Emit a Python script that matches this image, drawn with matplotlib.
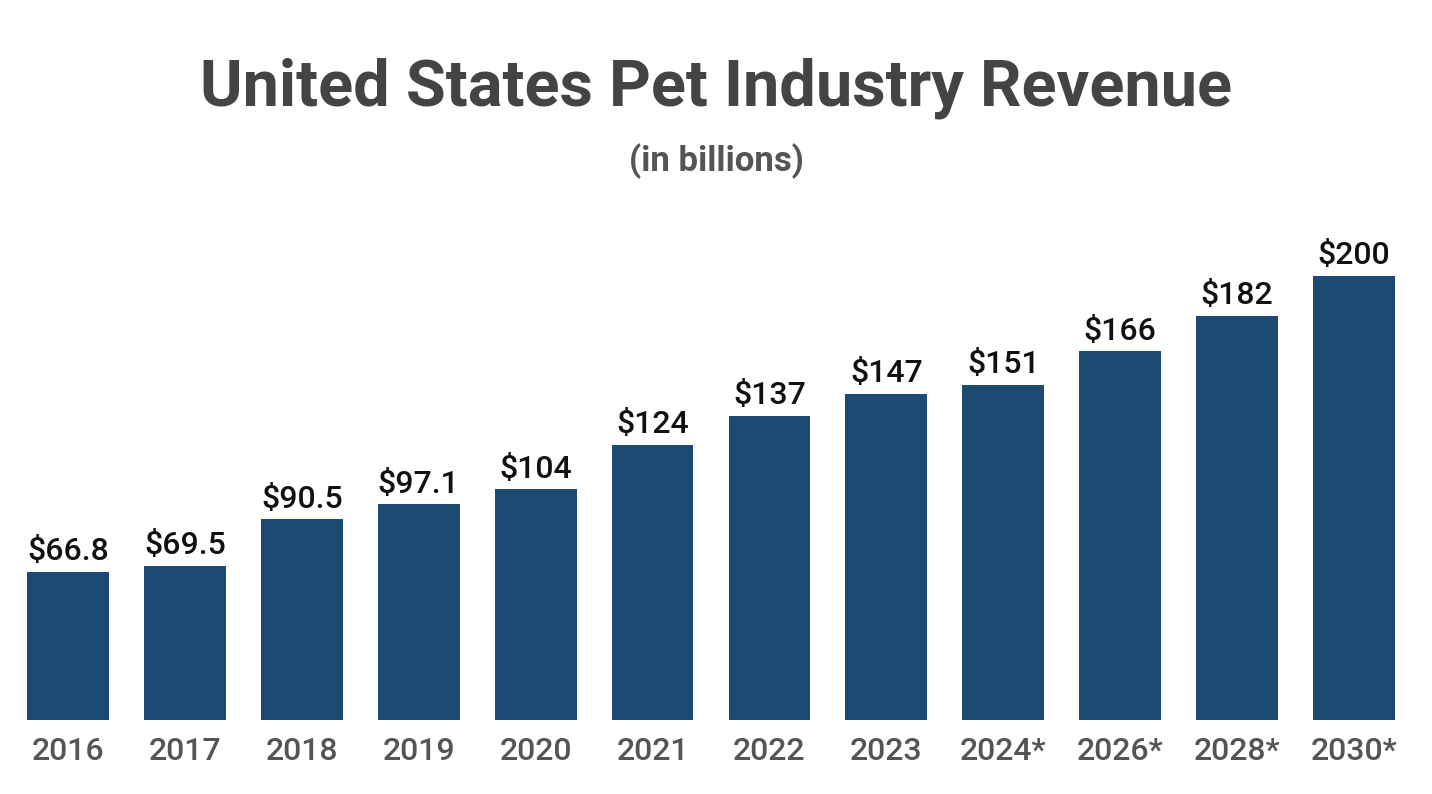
import matplotlib
matplotlib.use("Agg")
import matplotlib.pyplot as plt

# data (billions of USD)
years = ["2016", "2017", "2018", "2019", "2020", "2021", "2022", "2023",
         "2024*", "2026*", "2028*", "2030*"]
revenue = [66.8, 69.5, 90.5, 97.1, 104, 124, 137, 147, 151, 166, 182, 200]
value_labels = ["$66.8", "$69.5", "$90.5", "$97.1", "$104", "$124", "$137",
                "$147", "$151", "$166", "$182", "$200"]

plt.rcParams['font.family'] = ['Roboto', 'DejaVu Sans']

fig = plt.figure(figsize=(14.32, 7.94), dpi=100)
fig.patch.set_facecolor('white')
ax = fig.add_axes([9.5 / 1432, 74 / 794, 1403 / 1432, 520 / 794])

x = range(len(years))
bars = ax.bar(x, revenue, width=0.70, color='#1c4a73')

for b, lab in zip(bars, value_labels):
    ax.text(b.get_x() + b.get_width() / 2, b.get_height() + 2.5, lab,
            ha='center', va='bottom', fontsize=23, fontweight='medium',
            color='#111111')

ax.set_xlim(-0.5, len(years) - 0.5)
ax.set_ylim(0, 234.2)
ax.set_xticks(list(x))
ax.set_xticklabels(years, fontsize=23, fontweight='medium', color='#555555')
ax.tick_params(axis='x', length=0, pad=12)
ax.set_yticks([])
for s in ax.spines.values():
    s.set_visible(False)

fig.text(0.5, 1 - 88 / 794, "United States Pet Industry Revenue",
         ha='center', va='center', fontsize=46.7, fontweight='bold',
         color='#444444')
fig.text(0.5, 1 - 161 / 794, "(in billions)", ha='center', va='center',
         fontsize=25, fontweight='bold', color='#555555')

fig.savefig("out.png", dpi=100, facecolor='white')
